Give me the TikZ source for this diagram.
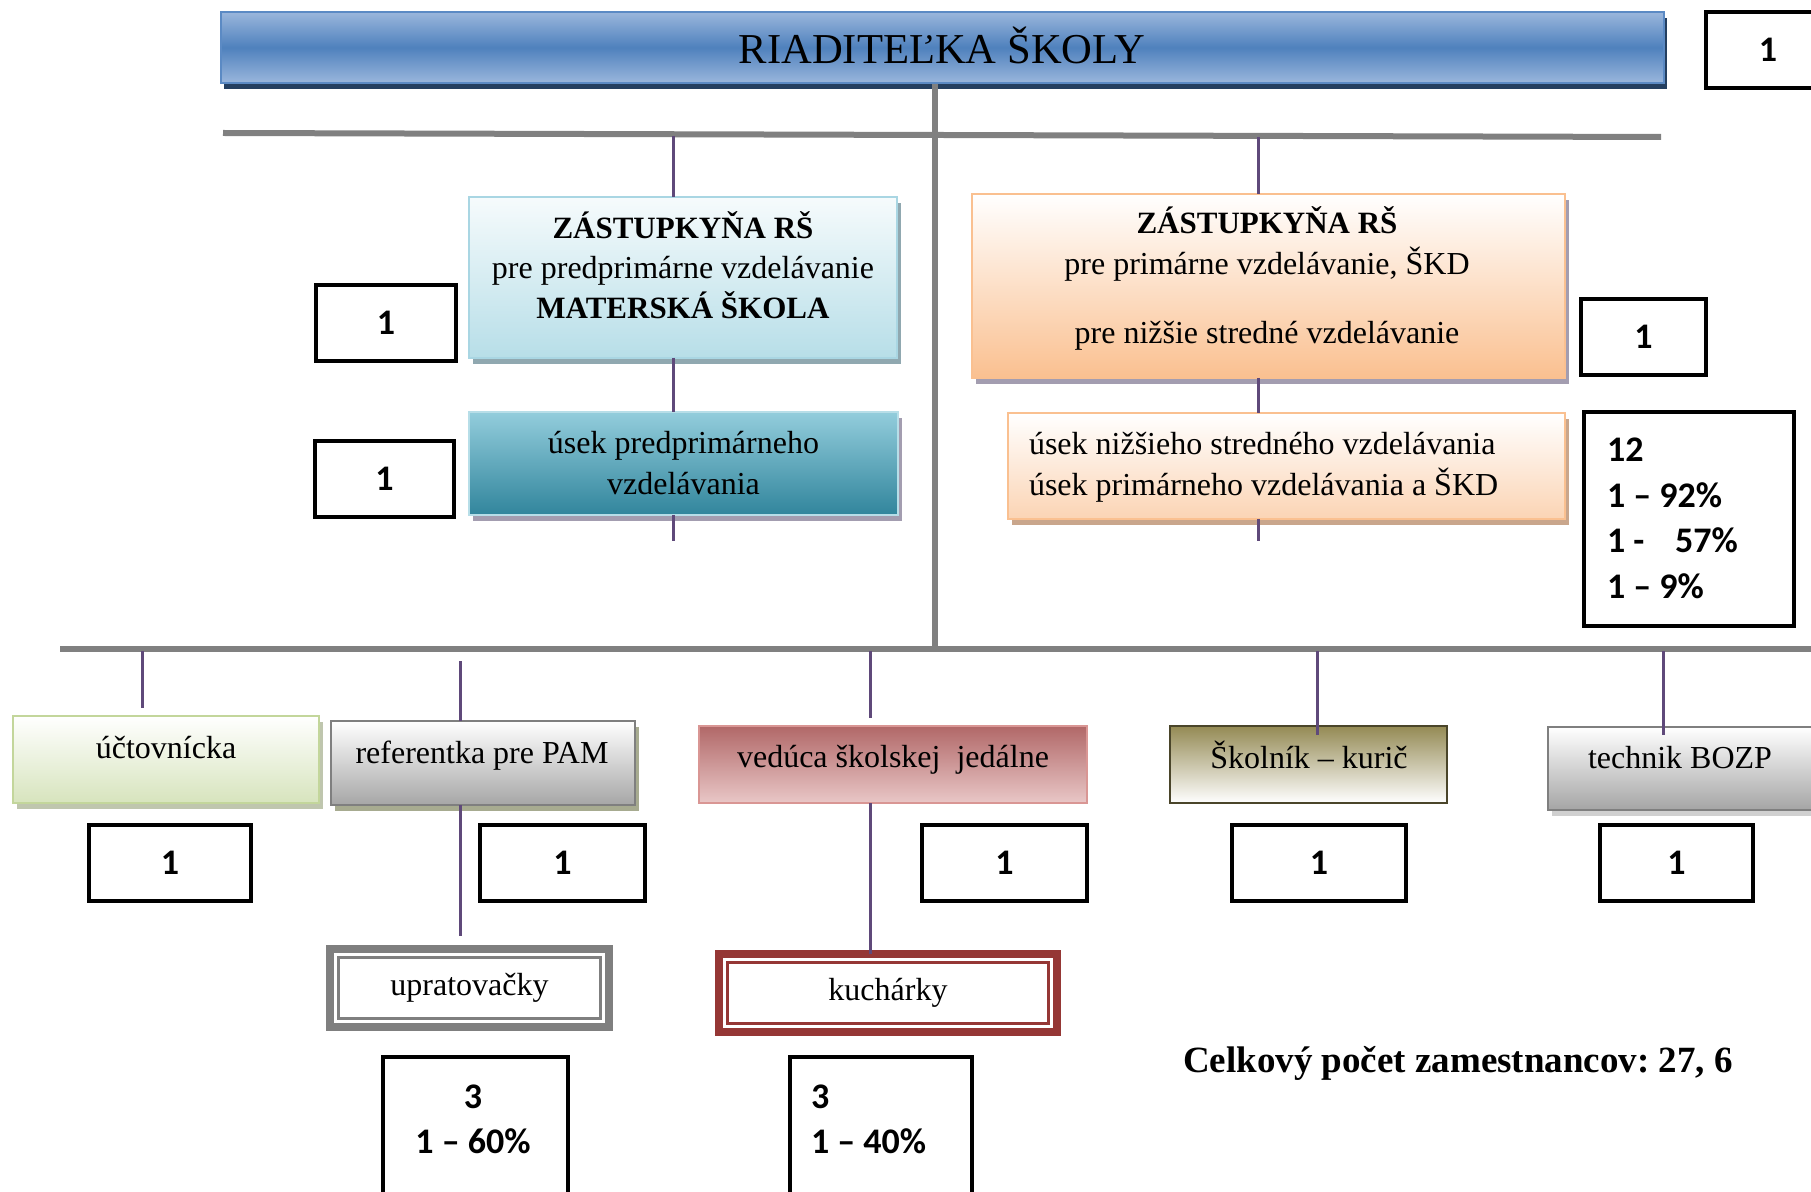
\documentclass[tikz,border=0pt]{standalone}
\usepackage{fontspec}
\setmainfont{Liberation Serif}
\newfontfamily\numfont{Carlito}
\usetikzlibrary{shadows}
\definecolor{cPurple}{HTML}{5F497A}
\definecolor{cBus}{HTML}{808080}
\definecolor{tTop}{HTML}{9AB6DC}
\definecolor{tMid}{HTML}{4F81BD}
\definecolor{tBorder}{HTML}{5B8AC4}
\definecolor{tShadow}{HTML}{243F60}
\definecolor{zlTop}{HTML}{F6FBFC}
\definecolor{zlBot}{HTML}{B7DEE8}
\definecolor{zlBorder}{HTML}{A9D6E3}
\definecolor{zlShadow}{HTML}{90A8B0}
\definecolor{ulTop}{HTML}{93CDDC}
\definecolor{ulBot}{HTML}{31859C}
\definecolor{ulBorder}{HTML}{B7DEE8}
\definecolor{ulShadow}{HTML}{A39DB0}
\definecolor{zrBot}{HTML}{FAC090}
\definecolor{zrBorder}{HTML}{FAC090}
\definecolor{zrShadow}{HTML}{A39DB0}
\definecolor{unBot}{HTML}{FBD4B4}
\definecolor{unBorder}{HTML}{FAC090}
\definecolor{unShadow}{HTML}{C9A68C}
\definecolor{ucBot}{HTML}{D7E4BD}
\definecolor{ucBorder}{HTML}{C3D69B}
\definecolor{ucShadow}{HTML}{BFC6AE}
\definecolor{rfBot}{HTML}{A6A6A6}
\definecolor{rfBorder}{HTML}{7F7F7F}
\definecolor{rfShadow}{HTML}{A7AB90}
\definecolor{vjTop}{HTML}{B16868}
\definecolor{vjBot}{HTML}{E9C7C7}
\definecolor{vjBorder}{HTML}{D99694}
\definecolor{skTop}{HTML}{948A54}
\definecolor{skBorder}{HTML}{4A452A}
\definecolor{tbBot}{HTML}{A5A5A5}
\definecolor{tbBorder}{HTML}{7F7F7F}
\definecolor{tbShadow}{HTML}{D0D0D0}
\definecolor{upColor}{HTML}{7F7F7F}
\definecolor{kcColor}{HTML}{953735}
\begin{document}
\frenchspacing
\begin{tikzpicture}[x=0.5pt,y=-0.5pt,
  box/.style={rectangle, inner sep=0pt, outer sep=0pt, line width=1pt, align=center,
    font=\fontsize{16}{20.5}\selectfont},
  txt/.style={inner sep=0pt, outer sep=0pt, font=\fontsize{16}{20.5}\selectfont},
  shad/.style={drop shadow={shadow xshift=1.75pt, shadow yshift=-3pt, opacity=1, fill=#1}},
  cnt/.style={rectangle, draw=black, line width=2pt, fill=white, inner sep=0pt, outer sep=0pt,
    font=\numfont\bfseries\fontsize{18}{22.8}\selectfont},
  cnttxt/.style={inner sep=0pt, outer sep=0pt, font=\numfont\bfseries\fontsize{18}{22.8}\selectfont},
  conn/.style={draw=cPurple, line width=1.5pt},
  bus/.style={draw=cBus, line width=3pt},
  dbl/.style={rectangle, draw=#1, line width=4pt, fill=white, inner sep=0pt, outer sep=0pt,
    font=\fontsize{16}{20.5}\selectfont}
]
\useasboundingbox (0,0) rectangle (1811,1192);
\clip (0,0) rectangle (1811,1192);
\fill[white] (0,0) rectangle (1811,1192);

% title
\node[box, minimum width=721.5pt, minimum height=35.5pt, draw=tBorder,
  top color=tTop, bottom color=tTop, middle color=tMid,
  drop shadow={shadow xshift=1.5pt, shadow yshift=-3pt, opacity=1, fill=tShadow}] (title) at (942.5,47.5) {};
\node[txt, font=\fontsize{21.3}{25}\selectfont] (titlet) at (942,45) {RIADITEĽKA ŠKOLY};
\node[cnt, minimum width=62pt, minimum height=38pt] (ntop) at (1768,50) {1};

% buses
\coordinate (tbL) at (223,133);
\coordinate (tbR) at (1661,137);
\coordinate (bbL) at (60,649);
\coordinate (bbR) at (1815,649);
\coordinate (vtop) at (935,84);
\draw[bus] (tbL) -- (tbR);
\draw[bus] (vtop) -- (vtop |- bbL);
\draw[bus] (bbL) -- (bbR);

% left deputy
\node[box, minimum width=214pt, minimum height=80.5pt, draw=zlBorder,
  top color=zlTop, bottom color=zlBot, shad=zlShadow] (zl) at (683,277.5) {};
\node[txt, align=center, font=\fontsize{16}{20}\selectfont] (zlt) at (683,265)
  {{\fontsize{15.5}{20}\selectfont\bfseries ZÁSTUPKYŇA RŠ}\\pre predprimárne vzdelávanie\\{\fontsize{15.5}{20}\selectfont\bfseries MATERSKÁ ŠKOLA}};
\node[cnt, minimum width=70pt, minimum height=38pt] (nzl) at (386,323) {1};

\node[box, minimum width=214.5pt, minimum height=51.5pt, draw=ulBorder,
  top color=ulTop, bottom color=ulBot, shad=ulShadow] (ul) at (683.5,463.5)
  {úsek predprimárneho\\vzdelávania};
\node[cnt, minimum width=69.5pt, minimum height=38pt] (nul) at (384.5,479) {1};

% right deputy
\node[box, minimum width=296.5pt, minimum height=92pt, draw=zrBorder,
  top color=white, bottom color=zrBot, shad=zrShadow] (zr) at (1268.5,286) {};
\node[txt, align=center] (zrt) at (1267,278.5)
  {{\fontsize{15.5}{20.5}\selectfont\bfseries ZÁSTUPKYŇA RŠ}\\pre primárne vzdelávanie, ŠKD\\[14pt]pre nižšie stredné vzdelávanie};
\node[cnt, minimum width=62.5pt, minimum height=38pt] (nzr) at (1643.5,337) {1};

\node[box, minimum width=278.5pt, minimum height=53pt, draw=unBorder,
  top color=white, bottom color=unBot, shad=unShadow] (un) at (1286.5,466) {};
\node[txt, align=left, anchor=west] (unt) at (1029,467)
  {úsek nižšieho stredného vzdelávania\\úsek primárneho vzdelávania a ŠKD};
\node[cnt, minimum width=105pt, minimum height=107pt] (nun) at (1689,519) {};
\node[cnttxt, align=left, anchor=west] (nunt) at (1607,518.5)
  {12\\1 – 92\%\\1 -\hspace{0.85em}57\%\\1 – 9\%};

% bottom row
\node[box, minimum width=153pt, minimum height=43.5pt, draw=ucBorder,
  top color=white, bottom color=ucBot, shad=ucShadow] (uc) at (166,759.5) {};
\node[txt] (uct) at (166,748) {účtovnícka};
\node[cnt, minimum width=81pt, minimum height=38pt] (nuc) at (170,863) {1};

\node[box, minimum width=152pt, minimum height=42pt, draw=rfBorder,
  top color=white, bottom color=rfBot, shad=rfShadow] (rf) at (483,763) {};
\node[txt] (rft) at (482,755.5) {referentka pre PAM};
\node[cnt, minimum width=82.5pt, minimum height=38pt] (nrf) at (562.5,863) {1};

\node[box, minimum width=194pt, minimum height=38.5pt, draw=vjBorder,
  top color=vjTop, bottom color=vjBot] (vj) at (893,764.5) {};
\node[txt] (vjt) at (893,759.5) {vedúca školskej~ jedálne};
\node[cnt, minimum width=82.5pt, minimum height=38pt] (nvj) at (1004.5,863) {1};

\node[box, minimum width=138.5pt, minimum height=38.5pt, draw=skBorder,
  top color=skTop, bottom color=white] (sk) at (1308.5,764.5) {};
\node[txt] (skt) at (1309,755) {Školník – kurič};
\node[cnt, minimum width=87pt, minimum height=38pt] (nsk) at (1319,863) {1};

\node[box, minimum width=132pt, minimum height=41.5pt, draw=tbBorder,
  top color=white, bottom color=tbBot, shad=tbShadow] (tb) at (1680,768.5) {};
\node[txt] (tbt) at (1680,758) {technik BOZP};
\node[cnt, minimum width=76.5pt, minimum height=38pt] (ntb) at (1676.5,863) {1};

% double-framed boxes
\node[dbl=upColor, minimum width=139.5pt, minimum height=39pt] (up) at (469.5,988) {upratovačky};
\draw[upColor, line width=1.5pt] ([shift={(4.25pt,-4.25pt)}]up.north west) rectangle ([shift={(-4.25pt,4.25pt)}]up.south east);
\node[dbl=kcColor, minimum width=169pt, minimum height=39pt] (kc) at (888,993) {kuchárky};
\draw[kcColor, line width=1.5pt] ([shift={(4.25pt,-4.25pt)}]kc.north west) rectangle ([shift={(-4.25pt,4.25pt)}]kc.south east);

\node[cnt, minimum width=92.5pt, minimum height=86.5pt] (nup) at (475.5,1143.5) {};
\node[cnttxt, align=center] (nupt) at (473,1119.5) {3\\1 – 60\%};
\node[cnt, minimum width=91pt, minimum height=86.5pt] (nkc) at (881,1143.5) {};
\node[cnttxt, align=left, anchor=west] (nkct) at (811,1119.5) {3\\1 – 40\%};

\node[inner sep=0pt, font=\fontsize{18.5}{22}\selectfont\bfseries] (total) at (1458,1063)
  {Celkový počet zamestnancov: 27, 6};

% purple connectors
\coordinate (p1) at (673,136);
\coordinate (p1e) at (673,541);
\draw[conn] (p1) -- (p1 |- zl.north);
\draw[conn] (p1 |- zl.south) -- (p1 |- ul.north);
\draw[conn] (p1 |- ul.south) -- (p1e);
\coordinate (p2) at (1258,137);
\coordinate (p2e) at (1258,541);
\draw[conn] (p2) -- (p2 |- zr.north);
\draw[conn] (p2 |- zr.south) -- (p2 |- un.north);
\draw[conn] (p2 |- un.south) -- (p2e);
\coordinate (p3) at (142,651);
\coordinate (p3e) at (142,708);
\draw[conn] (p3) -- (p3e);
\coordinate (p4) at (460,661);
\coordinate (p4e) at (460,936);
\draw[conn] (p4) -- (p4 |- rf.north);
\draw[conn] (p4 |- rf.south) -- (p4e);
\coordinate (p5) at (870,651);
\coordinate (p5e) at (870,718);
\draw[conn] (p5) -- (p5e);
\draw[conn] (p5 |- vj.south) -- (p5 |- kc.north);
\coordinate (p6) at (1317,651);
\coordinate (p6e) at (1317,735);
\draw[conn] (p6) -- (p6e);
\coordinate (p7) at (1663,651);
\coordinate (p7e) at (1663,735);
\draw[conn] (p7) -- (p7e);
\end{tikzpicture}
\end{document}
